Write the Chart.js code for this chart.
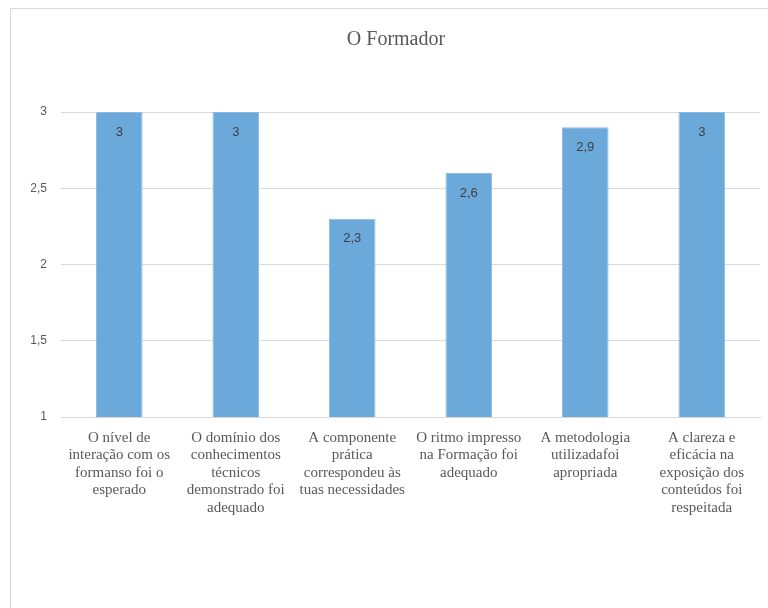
<!DOCTYPE html>
<html>
<head>
<meta charset="utf-8">
<script src="https://cdn.jsdelivr.net/npm/chart.js@4/dist/chart.umd.min.js"></script>
<style>
  html, body { margin: 0; padding: 0; background: #fff; overflow: hidden; }
  #frame { position: absolute; left: 10px; top: 8px; width: 800px; height: 700px; border: 1px solid #d9d9d9; box-sizing: border-box; }
  #wrap { position: absolute; left: 0; top: 0; width: 768px; height: 608px; }
</style>
</head>
<body>
<div id="frame"></div>
<div id="wrap"><canvas id="c" width="768" height="608"></canvas></div>
<script>
const title = "O Formador";
const categories = [
  ["O nível de", "interação com os", "formanso foi o", "esperado"],
  ["O domínio dos", "conhecimentos", "técnicos", "demonstrado foi", "adequado"],
  ["A componente", "prática", "correspondeu às", "tuas necessidades"],
  ["O ritmo impresso", "na Formação foi", "adequado"],
  ["A metodologia", "utilizadafoi", "apropriada"],
  ["A clareza e", "eficácia na", "exposição dos", "conteúdos foi", "respeitada"]
];
const values = [3, 3, 2.3, 2.6, 2.9, 3];
const yTicks = [1, 1.5, 2, 2.5, 3];

const fmt = v => String(v).replace('.', ',');
const serif = '"Liberation Serif", "Times New Roman", serif';
const sans = '"Liberation Sans", Arial, sans-serif';

const labelPlugin = {
  id: 'valueLabels',
  afterDatasetsDraw(chart) {
    const ctx = chart.ctx;
    const meta = chart.getDatasetMeta(0);
    ctx.save();
    ctx.font = '13px ' + sans;
    ctx.fillStyle = '#404040';
    ctx.textAlign = 'center';
    ctx.textBaseline = 'middle';
    meta.data.forEach((bar, i) => {
      ctx.fillText(fmt(values[i]), bar.x, bar.y + 20);
    });
    // title, centred over the original (wider) chart frame
    ctx.font = '20px ' + serif;
    ctx.fillStyle = '#595959';
    ctx.fillText(title, 396, 40);
    ctx.restore();
  }
};

new Chart(document.getElementById('c'), {
  type: 'bar',
  data: {
    labels: categories,
    datasets: [{
      data: values,
      backgroundColor: '#6CA9DB',
      borderColor: '#8DBCE4',
      borderWidth: 1,
      categoryPercentage: 0.4,
      barPercentage: 1.0
    }]
  },
  options: {
    responsive: false,
    animation: false,
    devicePixelRatio: 1,
    layout: { padding: { left: 0, right: 8, top: 0, bottom: 0 } },
    plugins: {
      legend: { display: false },
      tooltip: { enabled: false },
      title: {
        display: true,
        text: title,
        color: 'rgba(0,0,0,0)',
        font: { family: serif, size: 20, weight: 'normal', lineHeight: 1.2 },
        padding: { top: 28, bottom: 60 }
      }
    },
    scales: {
      x: {
        offset: true,
        grid: { display: false, drawTicks: false },
        border: { display: true, color: '#d9d9d9', width: 1 },
        ticks: {
          color: '#595959',
          font: { family: serif, size: 15, lineHeight: 1.17 },
          padding: 12,
          maxRotation: 0,
          autoSkip: false
        },
        afterFit(scale) { scale.height = 191; }
      },
      y: {
        min: 1,
        max: 3,
        afterBuildTicks(scale) { scale.ticks = yTicks.map(v => ({ value: v })); },
        grid: { color: '#d9d9d9', drawTicks: false, lineWidth: 1 },
        border: { display: false },
        ticks: {
          color: '#595959',
          font: { family: sans, size: 12 },
          padding: 14,
          callback: v => fmt(v)
        },
        afterFit(scale) { scale.width = 61; }
      }
    }
  },
  plugins: [labelPlugin]
});
</script>
</body>
</html>
